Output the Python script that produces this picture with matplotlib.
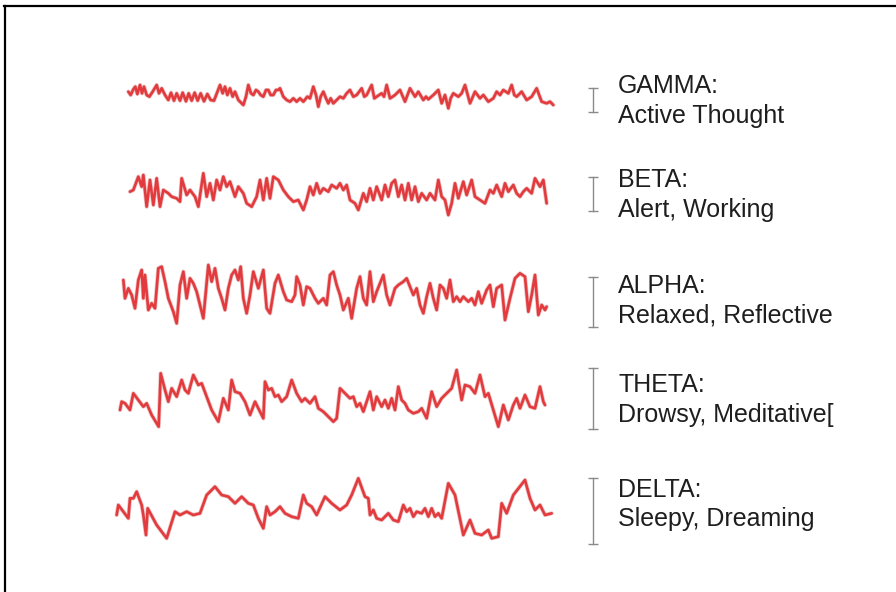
import numpy as np
import matplotlib
matplotlib.use("Agg")
import matplotlib.pyplot as plt
from matplotlib.lines import Line2D

plt.rcParams['font.family'] = ['Liberation Sans', 'DejaVu Sans']

# EEG traces: (time in samples, amplitude), amplitude positive up
gamma = [(55, 15), (62, 5), (70, 22), (76, 30), (82, 8), (90, 35), (96, 10), (102, 30),
         (110, 5), (118, 0), (128, 15), (140, 35), (147, 10), (155, 25), (165, 5),
         (175, -10), (183, 12), (192, -12), (200, 10), (210, -12), (218, 12), (228, -14),
         (236, 10), (245, -12), (254, 12), (263, -12), (272, 10), (282, -14), (292, 8),
         (302, -10), (312, -12), (330, 35), (338, 10), (345, 30), (352, 5), (360, 25),
         (368, 0), (375, 15), (385, -10), (400, -25), (408, 0), (415, 35), (423, 10),
         (430, 5), (438, 20), (445, 15), (452, 5), (460, 0), (468, 20), (475, 20),
         (482, 5), (490, 5), (498, 20), (505, 20), (510, 25), (520, 0), (530, -10),
         (540, -15), (550, -5), (560, -15), (570, -5), (580, -15), (592, 0), (600, -5),
         (610, 30), (618, 5), (625, -30), (632, 0), (640, 15), (648, -5), (655, -20),
         (662, -5), (670, -20), (680, -10), (690, 0), (700, -5), (710, 10), (720, 20),
         (730, 0), (740, 5), (755, 25), (763, 0), (770, 5), (785, 35), (793, -5),
         (800, 0), (815, 10), (822, 0), (830, 35), (840, -5), (848, 0), (855, 5),
         (870, 20), (885, -15), (900, 25), (915, 0), (925, 15), (940, -10), (948, 0),
         (955, -8), (970, 5), (985, 20), (995, -20), (1005, 5), (1015, -35), (1022, -5),
         (1030, 10), (1045, 0), (1055, 10), (1065, 35), (1080, -20), (1095, 15),
         (1110, -5), (1120, 5), (1135, -15), (1150, -5), (1160, 15), (1170, 5),
         (1180, 20), (1195, 10), (1205, 35), (1213, 5), (1220, 0), (1235, 15),
         (1250, -10), (1265, 0), (1280, 25), (1295, -15), (1310, -20), (1320, -15),
         (1330, -25)]

beta = [(60, 0), (70, 5), (85, 45), (95, 15), (100, 50), (110, -45), (120, 35), (130, -40),
        (140, 40), (150, -45), (160, 5), (175, -5), (185, -15), (200, -20), (210, -30),
        (215, 40), (230, -10), (240, 5), (255, -15), (265, -45), (280, 55), (290, -15),
        (300, 25), (310, -25), (320, 35), (330, 5), (340, 45), (350, 15), (360, 30),
        (375, -15), (385, 15), (400, -5), (410, -35), (425, -45), (440, -15), (450, 35),
        (460, -25), (470, 40), (480, -20), (490, 45), (505, 35), (520, 5), (535, -15),
        (550, -30), (565, -25), (580, -55), (590, -25), (600, 15), (610, -10), (620, 25),
        (630, -5), (640, 10), (655, 0), (665, 20), (680, 10), (690, 25), (700, 5),
        (710, 20), (720, -25), (735, -35), (745, -55), (760, -5), (770, -30), (780, 10),
        (790, -25), (800, 15), (815, -25), (825, 20), (835, -15), (845, 25), (855, 35),
        (865, -15), (875, 20), (885, -25), (895, 25), (905, -25), (915, 15), (925, -30),
        (935, -5), (950, -25), (960, -5), (975, -25), (985, 35), (995, -15), (1005, -25),
        (1015, -70), (1025, -35), (1035, 25), (1045, -20), (1060, 30), (1070, -10),
        (1085, 35), (1095, -15), (1110, -25), (1125, -35), (1140, 5), (1150, -5),
        (1160, 20), (1175, -15), (1185, 25), (1195, 0), (1210, 20), (1220, -5),
        (1230, -15), (1240, 0), (1250, 10), (1265, -5), (1275, 40), (1290, 15),
        (1300, 35), (1310, -35)]

alpha = [(40, 35), (45, -20), (55, 10), (65, -10), (75, -50), (85, 35), (95, 65), (100, -20),
         (105, 50), (115, -55), (125, -35), (135, -50), (145, 70), (155, 75), (165, 30),
         (175, -20), (190, -60), (200, -95), (210, 20), (220, 60), (230, -20), (240, 40),
         (250, 25), (260, 0), (270, -40), (280, -80), (295, 80), (305, 30), (315, 70),
         (325, 10), (335, -20), (345, -55), (355, 10), (365, 50), (375, 65), (385, 35),
         (392, 75), (400, -20), (410, -65), (420, -10), (430, 60), (445, 10), (460, 65),
         (470, -50), (480, -65), (495, 25), (505, 50), (520, 0), (530, -25), (545, -30),
         (555, -10), (560, 45), (570, 20), (580, -40), (590, 15), (600, 10), (615, -20),
         (625, -35), (640, -20), (650, -40), (660, 50), (670, 60), (680, 20), (690, -10),
         (700, -55), (715, -20), (725, -80), (740, 10), (750, 45), (760, -20), (770, -40),
         (780, 60), (790, -30), (800, 0), (810, 25), (820, 50), (830, -10), (840, -40),
         (855, 10), (865, 20), (880, 30), (890, 40), (900, 15), (910, -10), (920, 10),
         (930, -40), (940, -65), (950, -15), (960, 25), (970, -20), (980, -55), (990, 20),
         (1000, 10), (1010, -20), (1020, 35), (1030, -30), (1040, -15), (1050, -30),
         (1060, -15), (1075, -30), (1085, -20), (1095, -40), (1105, 0), (1115, -35),
         (1130, 5), (1140, 20), (1150, -45), (1160, 10), (1175, 20), (1185, -85),
         (1200, -20), (1215, 40), (1230, 55), (1245, 45), (1255, -60), (1265, -10),
         (1275, 50), (1285, -70), (1295, -40), (1305, -55), (1310, -45)]

theta = [(30, -30), (35, -5), (45, -10), (60, -30), (70, 20), (85, 0), (100, -20), (110, -10),
         (125, -45), (146, -80), (152, 80), (165, 30), (175, -5), (185, 35), (200, 10),
         (215, 60), (225, 30), (235, 20), (250, 75), (265, 45), (275, 50), (290, 10),
         (305, -30), (325, -65), (340, 5), (355, -30), (365, 60), (375, 25), (390, 20),
         (405, -5), (420, -45), (435, -5), (450, -35), (460, -55), (465, 55), (475, 30),
         (485, 35), (495, 10), (505, 15), (515, -5), (530, 10), (545, 60), (560, 20),
         (575, -5), (585, 5), (600, -10), (615, 10), (625, -25), (640, -35), (655, -50),
         (670, -65), (680, -55), (690, 35), (705, 20), (720, 5), (730, 10), (740, -20),
         (750, -10), (760, -35), (770, -5), (780, 25), (790, -30), (800, 10), (815, -20),
         (825, 0), (835, -25), (845, 5), (855, -30), (865, 40), (875, 0), (885, -10),
         (895, -30), (910, -40), (925, -35), (935, -25), (950, -55), (965, 25), (980, -20),
         (995, 5), (1010, 20), (1025, 35), (1040, 90), (1055, 0), (1065, 45), (1080, 40),
         (1095, 20), (1110, 75), (1125, 10), (1135, 20), (1150, -30), (1165, -80),
         (1180, -15), (1195, -60), (1210, -15), (1220, 5), (1230, -25), (1245, 15),
         (1260, -20), (1275, -25), (1290, 40), (1300, -5), (1305, -15)]

delta = [(20, -15), (25, 15), (40, -5), (55, -25), (60, 35), (70, 35), (80, 55), (95, 15),
         (100, -15), (108, -75), (113, 5), (140, -45), (170, -85), (195, -5), (210, -15),
         (230, -5), (250, -15), (270, -10), (290, 45), (315, 70), (335, 45), (355, 40),
         (375, 20), (395, 40), (415, 20), (430, 15), (445, -25), (460, -55), (470, 10),
         (480, -15), (495, -5), (510, 10), (525, -10), (545, -20), (565, -25), (580, 45),
         (590, 20), (605, 10), (620, -15), (645, 40), (665, 20), (690, 0), (710, 15),
         (725, 45), (745, 95), (765, 40), (775, 35), (780, -15), (790, 0), (800, -25),
         (815, -30), (835, -10), (850, -30), (865, -35), (880, 15), (890, -5), (900, 5),
         (910, -20), (920, -5), (935, -10), (945, 5), (955, -20), (965, 5), (975, -20),
         (985, -10), (995, -25), (1015, 80), (1035, 45), (1060, -75), (1080, -30),
         (1095, -70), (1115, -75), (1135, -60), (1145, -85), (1165, -80), (1175, 20),
         (1190, -10), (1210, 45), (1245, 90), (1260, 35), (1275, 0), (1290, 15),
         (1305, -15), (1325, -10)]

band_names = ['GAMMA:', 'BETA:', 'ALPHA:', 'THETA:', 'DELTA:']
band_states = ['Active Thought', 'Alert, Working', 'Relaxed, Reflective',
               'Drowsy, Meditative[', 'Sleepy, Dreaming']
traces = [gamma, beta, alpha, theta, delta]

# layout
baselines = [1486, 1201, 901, 576, 246]
bar_spans = [(1440, 1512), (1143, 1245), (795, 945), (489, 672), (144, 342)]
bar_t = 1449
name_y = [93, 187, 293, 392, 497]
state_y = [123, 217, 323, 422, 526]

W, H = 896, 592
fig = plt.figure(figsize=(W / 100, H / 100), dpi=100)
fig.patch.set_facecolor('white')
ax = fig.add_axes([0, 0, 1, 1])
ax.set_xlim(-330, 2358)
ax.set_ylim(0, 1776)
ax.axis('off')

for pts, base in zip(traces, baselines):
    t, v = np.array(pts, dtype=float).T
    ax.plot(t, v + base, color='#c85050', lw=3.0, alpha=0.35,
            solid_joinstyle='round', solid_capstyle='round')
    ax.plot(t, v + base, color='#e23a3d', lw=1.9,
            solid_joinstyle='round', solid_capstyle='round')

for lo, hi in bar_spans:
    ax.plot([bar_t, bar_t], [lo, hi], color='#8a8a8a', lw=1.0,
            marker='_', ms=7, mew=1.0)

for name, state, y1, y2 in zip(band_names, band_states, name_y, state_y):
    fig.text(618 / W, 1 - y1 / H, name, fontsize=18, color='#1e1e1e', va='baseline')
    fig.text(618 / W, 1 - y2 / H, state, fontsize=18, color='#1e1e1e', va='baseline')

# frame lines on top and left
fig.add_artist(Line2D([4 / W, 1], [1 - 6 / H, 1 - 6 / H], color='black', lw=1.6))
fig.add_artist(Line2D([5 / W, 5 / W], [0, 1 - 6 / H], color='black', lw=1.6))

fig.savefig('out.png', dpi=100, facecolor='white')
